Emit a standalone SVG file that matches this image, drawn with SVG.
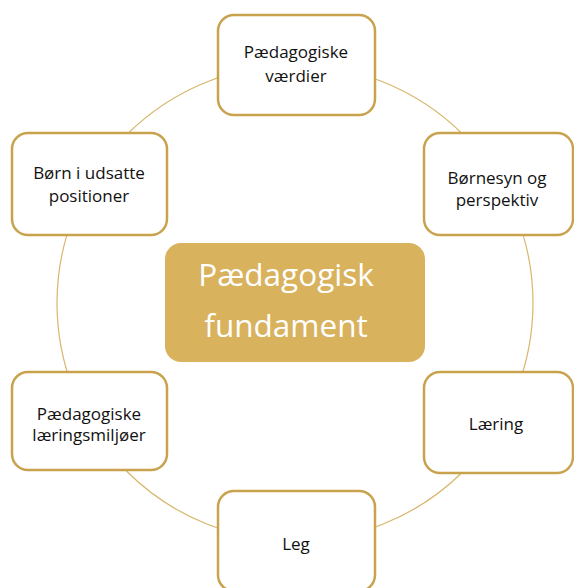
<svg xmlns="http://www.w3.org/2000/svg" width="574" height="588" viewBox="0 0 574 588">
<style>
.box{fill:#fff;stroke:#C9A24E;stroke-width:2.5}
.lbl{font-family:"Open Sans","Liberation Sans",sans-serif;font-size:17px;fill:#111;text-anchor:middle}
.ctr{font-family:"Open Sans","Liberation Sans",sans-serif;font-size:31.5px;fill:#fff;text-anchor:middle}
</style>
<rect width="574" height="588" fill="#fff"/>
<g id="connectors">
<circle cx="295" cy="303" r="238" fill="none" stroke="#D8B66A" stroke-width="1.2"/>
</g>
<g id="center">
<rect x="165" y="243" width="260" height="119" rx="16" fill="#D9B25E"/>
<text class="ctr" x="286" y="286">Pædagogisk</text>
<text class="ctr" x="286" y="337">fundament</text>
</g>
<g id="n-vaerdier">
<rect class="box" x="218" y="15" width="157" height="100" rx="16"/>
<text class="lbl" x="296" y="58">Pædagogiske</text>
<text class="lbl" x="296" y="82">værdier</text>
</g>
<g id="n-boernesyn">
<rect class="box" x="424" y="133" width="149" height="102" rx="16"/>
<text class="lbl" x="497" y="184">Børnesyn og</text>
<text class="lbl" x="497" y="206">perspektiv</text>
</g>
<g id="n-laering">
<rect class="box" x="424" y="372" width="149" height="101" rx="16"/>
<text class="lbl" x="496" y="430">Læring</text>
</g>
<g id="n-leg">
<rect class="box" x="218" y="491" width="157" height="100" rx="16"/>
<text class="lbl" x="296" y="550">Leg</text>
</g>
<g id="n-laeringsmiljoer">
<rect class="box" x="12" y="372" width="155" height="98" rx="16"/>
<text class="lbl" x="89" y="420">Pædagogiske</text>
<text class="lbl" x="89" y="441">læringsmiljøer</text>
</g>
<g id="n-udsatte">
<rect class="box" x="12" y="133" width="155" height="102" rx="16"/>
<text class="lbl" x="89" y="179">Børn i udsatte</text>
<text class="lbl" x="89" y="202">positioner</text>
</g>
</svg>
